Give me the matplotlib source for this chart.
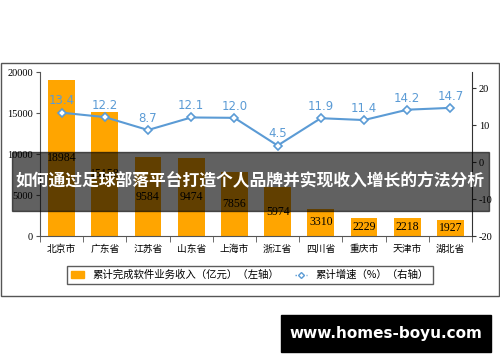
import matplotlib.pyplot as plt
from matplotlib.patches import Rectangle
from matplotlib.lines import Line2D
import numpy as np

plt.rcParams['font.family'] = ['Noto Sans CJK SC', 'DejaVu Sans']

provinces = ['北京市', '广东省', '江苏省', '山东省', '上海市', '浙江省', '四川省', '重庆市', '天津市', '湖北省']
revenue = [18984, 15158, 9584, 9474, 7856, 5974, 3310, 2229, 2218, 1927]
growth = [13.4, 12.2, 8.7, 12.1, 12.0, 4.5, 11.9, 11.4, 14.2, 14.7]

orange = '#FFA500'
blue = '#5B9BD5'
serif = ['Liberation Serif', 'DejaVu Serif']

fig = plt.figure(figsize=(5, 3.62), dpi=100)
ax = fig.add_axes([0.08, 0.348, 0.864, 0.453])
x = np.arange(len(provinces))

ax.bar(x, revenue, width=0.62, color=orange, zorder=2)
for xi, v in zip(x, revenue):
    ax.text(xi, v / 2, str(v), ha='center', va='center', fontsize=8.5, family=serif, color='black')

ax.set_xlim(-0.5, len(provinces) - 0.5)
ax.set_ylim(0, 20000)
ax.set_yticks([0, 5000, 10000, 15000, 20000])
ax.set_yticklabels(['0', '5000', '10000', '15000', '20000'], family=serif, fontsize=7.5)
ax.set_xticks(x)
ax.set_xticklabels(provinces, fontsize=7)
ax.set_xticks(np.arange(-0.5, len(provinces), 1), minor=True)
ax.tick_params(axis='x', which='major', length=0, pad=6)
ax.tick_params(axis='x', which='minor', length=4, color='#555555')
ax.tick_params(axis='y', length=3, pad=2, color='#555555')
ax.spines['top'].set_visible(False)
ax.spines['right'].set_visible(False)
ax.spines['left'].set_color('#555555')
ax.spines['bottom'].set_color('#555555')

ax2 = ax.twinx()
ax2.plot(x, growth, color=blue, lw=1.5, marker='D', ms=4, mfc='white', mec=blue, mew=1.2, zorder=3)
for xi, g in zip(x, growth):
    ax2.text(xi, g + 1.4, f'{g:.1f}', ha='center', va='bottom', fontsize=8.5, color=blue, family='DejaVu Sans')
ax2.set_ylim(-20, 24.4)
ax2.set_yticks([-20, -10, 0, 10, 20])
ax2.set_yticklabels(['-20', '-10', '0', '10', '20'], family=serif, fontsize=7.5)
ax2.tick_params(axis='y', length=3, pad=2, color='#333333')
for s in ['top', 'left', 'bottom']:
    ax2.spines[s].set_visible(False)
ax2.spines['right'].set_color('#333333')

# outer frame
fig.patches.append(Rectangle((0.002, 0.182), 0.996, 0.644, transform=fig.transFigure,
                             fill=False, edgecolor='#555555', lw=1))

handles = [
    Rectangle((0, 0), 1, 1, color=orange),
    Line2D([0], [0], color=blue, lw=1, ls=':', marker='D', ms=3, mfc='white', mec=blue),
]
labels = ['累计完成软件业务收入（亿元）（左轴）', '累计增速（%）（右轴）']
fig.legend(handles, labels, loc='center', bbox_to_anchor=(0.5, 0.24), ncol=2, fontsize=7.5,
           frameon=True, fancybox=False, edgecolor='#333333', handlelength=1.2, columnspacing=1.5,
           borderpad=0.4)

# dark title band
fig.patches.append(Rectangle((0.024, 0.417), 0.954, 0.163, transform=fig.transFigure,
                             color='black', alpha=0.62, zorder=10))
fig.text(0.5, 0.4985, '如何通过足球部落平台打造个人品牌并实现收入增长的方法分析', ha='center', va='center',
         fontsize=12.1, fontweight='bold', color='white', zorder=11)

# watermark
fig.patches.append(Rectangle((0.562, 0.028), 0.42, 0.102, transform=fig.transFigure,
                             color='black', zorder=10))
fig.text(0.772, 0.079, 'www.homes-boyu.com', ha='center', va='center', fontsize=11,
         fontweight='bold', color='white', family='DejaVu Sans', zorder=11)

fig.savefig('out.png', dpi=100)
